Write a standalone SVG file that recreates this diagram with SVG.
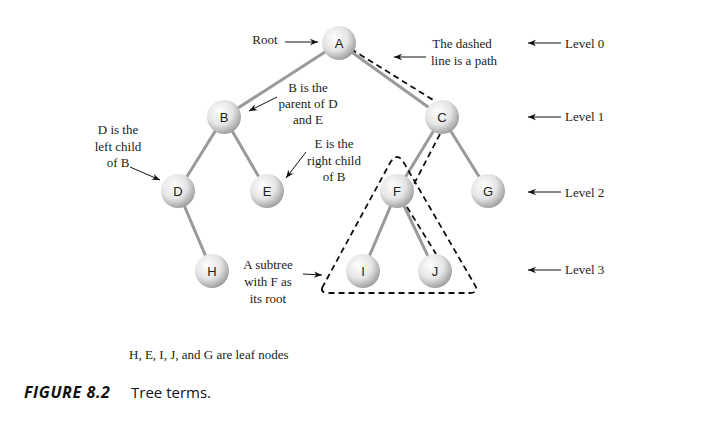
<svg xmlns="http://www.w3.org/2000/svg" width="716" height="424" viewBox="0 0 716 424">
<style>
.edge{stroke:#9a9a9a;stroke-width:3;fill:none}
.dash{stroke:#111;stroke-width:1.8;stroke-dasharray:6,4;fill:none}
.arr{stroke:#111;stroke-width:1;fill:none;marker-end:url(#ah)}
.lbl{font-family:"Liberation Serif",serif;font-size:13px;fill:#222;text-anchor:middle}
.lvl{font-family:"Liberation Serif",serif;font-size:13px;fill:#222}
.nt{font-family:"Liberation Sans","DejaVu Sans",sans-serif;font-size:13px;fill:#222;text-anchor:middle}
.node{fill:url(#g)}
</style>
<defs>
<radialGradient id="g" cx="0.38" cy="0.35" r="0.7">
<stop offset="0" stop-color="#ffffff"/>
<stop offset="0.55" stop-color="#e4e4e4"/>
<stop offset="1" stop-color="#989898"/>
</radialGradient>
<marker id="ah" viewBox="0 0 10 10" refX="10" refY="5" markerWidth="8" markerHeight="8" orient="auto" markerUnits="userSpaceOnUse">
<path d="M0,1 L10,5 L0,9 L3,5 Z" fill="#111"/>
</marker>
</defs>
<rect width="716" height="424" fill="#fff"/>
<g id="connectors">
<line class="edge" x1="339" y1="43" x2="224" y2="117"/>
<line class="edge" x1="339" y1="43" x2="442" y2="117"/>
<line class="edge" x1="224" y1="117" x2="178" y2="191"/>
<line class="edge" x1="224" y1="117" x2="267" y2="191"/>
<line class="edge" x1="442" y1="117" x2="397" y2="191"/>
<line class="edge" x1="442" y1="117" x2="488" y2="191"/>
<line class="edge" x1="178" y1="191" x2="212" y2="271"/>
<line class="edge" x1="397" y1="191" x2="363" y2="271"/>
<line class="edge" x1="397" y1="191" x2="435" y2="271"/>
<polyline class="dash" points="351,49 438,103"/>
<polyline class="dash" points="440,134 414,184"/>
<polyline class="dash" points="407,207 436,254"/>
<path class="dash" d="M322,288 L390,163 Q397,151 404,163 L476,287 Q477,293 470,293 L328,293 Q321,293 322,288 Z"/>
<line class="arr" x1="285" y1="42" x2="318" y2="42"/>
<line class="arr" x1="426" y1="57" x2="394" y2="57"/>
<line class="arr" x1="277" y1="97" x2="249" y2="111"/>
<line class="arr" x1="130" y1="167" x2="160" y2="180"/>
<line class="arr" x1="306" y1="152" x2="286" y2="178"/>
<line class="arr" x1="303" y1="274" x2="322" y2="275"/>
<line class="arr" x1="561" y1="43" x2="528" y2="43"/>
<line class="arr" x1="561" y1="117" x2="528" y2="117"/>
<line class="arr" x1="561" y1="192" x2="528" y2="192"/>
<line class="arr" x1="561" y1="270" x2="528" y2="270"/>
</g>
<g id="A"><circle class="node" cx="339" cy="43" r="17"/><text class="nt" x="339" y="48">A</text></g>
<g id="B"><circle class="node" cx="224" cy="117" r="17"/><text class="nt" x="224" y="122">B</text></g>
<g id="C"><circle class="node" cx="442" cy="117" r="17"/><text class="nt" x="442" y="122">C</text></g>
<g id="D"><circle class="node" cx="178" cy="191" r="17"/><text class="nt" x="178" y="196">D</text></g>
<g id="E"><circle class="node" cx="267" cy="191" r="17"/><text class="nt" x="267" y="196">E</text></g>
<g id="F"><circle class="node" cx="397" cy="191" r="17"/><text class="nt" x="397" y="196">F</text></g>
<g id="G"><circle class="node" cx="488" cy="191" r="17"/><text class="nt" x="488" y="196">G</text></g>
<g id="H"><circle class="node" cx="212" cy="271" r="17"/><text class="nt" x="212" y="276">H</text></g>
<g id="I"><circle class="node" cx="363" cy="271" r="17"/><text class="nt" x="363" y="276">I</text></g>
<g id="J"><circle class="node" cx="435" cy="271" r="17"/><text class="nt" x="435" y="276">J</text></g>
<g id="labels">
<text class="lbl" x="265" y="44">Root</text>
<text class="lbl" x="462" y="48">The dashed</text>
<text class="lbl" x="464" y="65">line is a path</text>
<text class="lbl" x="308" y="92">B is the</text>
<text class="lbl" x="308" y="108">parent of D</text>
<text class="lbl" x="308" y="124">and E</text>
<text class="lbl" x="118" y="134">D is the</text>
<text class="lbl" x="118" y="151">left child</text>
<text class="lbl" x="118" y="167">of B</text>
<text class="lbl" x="334" y="148">E is the</text>
<text class="lbl" x="334" y="165">right child</text>
<text class="lbl" x="334" y="181">of B</text>
<text class="lbl" x="268" y="269">A subtree</text>
<text class="lbl" x="268" y="286">with F as</text>
<text class="lbl" x="268" y="303">its root</text>
<text class="lvl" x="565" y="48">Level 0</text>
<text class="lvl" x="565" y="121">Level 1</text>
<text class="lvl" x="565" y="197">Level 2</text>
<text class="lvl" x="565" y="274">Level 3</text>
<text class="lvl" x="129" y="359">H, E, I, J, and G are leaf nodes</text>
<text x="24" y="398" style="font-family:'Open Sans','DejaVu Sans',sans-serif;font-size:16px;font-weight:bold;font-style:italic;fill:#111;letter-spacing:0.6px">FIGURE 8.2</text>
<text x="131" y="398" style="font-family:'Open Sans','DejaVu Sans',sans-serif;font-size:15px;fill:#111">Tree terms.</text>
</g>
</svg>
